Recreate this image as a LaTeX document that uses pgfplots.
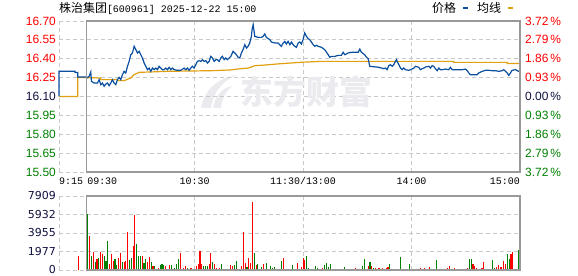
\documentclass[border=0pt]{standalone}
\usepackage{pgfplots}
\pgfplotsset{compat=1.18}
\usepackage{fontspec}
\setmainfont{Liberation Sans}
\newfontfamily\cjk{Noto Sans CJK SC}
\newfontfamily\mono{Liberation Mono}
\newfontfamily\dvs{DejaVu Sans}
\definecolor{pblue}{HTML}{0A4FA0}
\definecolor{pgold}{HTML}{E0A010}
\definecolor{gridc}{HTML}{C8C8C8}
\definecolor{framec}{HTML}{999999}
\definecolor{upred}{HTML}{FF0000}
\definecolor{dngreen}{HTML}{008000}
\definecolor{wm}{HTML}{EBEBEF}
\definecolor{navy}{HTML}{101040}
\begin{document}
\begin{tikzpicture}
\path[use as bounding box] (0bp,0bp) rectangle (578bp,276bp);
% title and legend
\node[anchor=base west, inner sep=0pt] at (59bp,263bp) {{\cjk\fontsize{12}{12}\selectfont 株治集团}{\mono\fontsize{10}{10}\selectfont[600961] 2025-12-22 15:00}};
\node[anchor=base west, inner sep=0pt] at (432bp,263bp) {\cjk\fontsize{12}{12}\selectfont 价格};
\fill[pblue] (463bp,266.5bp) rectangle (468bp,268.5bp);
\node[anchor=base west, inner sep=0pt] at (477bp,263bp) {\cjk\fontsize{12}{12}\selectfont 均线};
\fill[pgold] (508bp,266.5bp) rectangle (513bp,268.5bp);
% watermark logo swoosh
\fill[wm] (201bp,168bp) .. controls (204bp,186bp) and (218bp,198bp) .. (236bp,201bp) .. controls (222bp,194bp) and (213bp,184bp) .. (211bp,168bp) -- cycle;
\fill[wm] (213bp,168bp) .. controls (215bp,180bp) and (222bp,188bp) .. (232bp,190bp) .. controls (226bp,185bp) and (222bp,178bp) .. (221bp,168bp) -- cycle;

\begin{axis}[
  at={(59bp,104bp)}, anchor=south west,
  width=461bp, height=151bp, scale only axis,
  xmin=-15, xmax=240, ymin=15.5, ymax=16.7,
  axis line style={draw=none},
  major tick length=0pt,
  xtick={-15,60,120,180}, xticklabels={},
  ytick={15.50,15.65,15.80,15.95,16.10,16.25,16.40,16.55,16.70},
  yticklabels={\textcolor{dngreen}{15.50},\textcolor{dngreen}{15.65},\textcolor{dngreen}{15.80},\textcolor{dngreen}{15.95},\textcolor{navy}{16.10},\textcolor{upred}{16.25},\textcolor{upred}{16.40},\textcolor{upred}{16.55},\textcolor{upred}{16.70}},
  yticklabel style={anchor=east, inner sep=0pt, xshift=-3bp, font=\fontsize{12}{12}\selectfont},
  grid=major, grid style={gridc, dash pattern=on 4bp off 3bp, line width=0.9bp},
  clip=false,
]
\node[text=wm, font=\cjk\bfseries\fontsize{33}{33}\selectfont] at (axis cs:122,16.136) {东方财富};
\addplot[pgold, line width=1.2bp, no marks] coordinates {
(-15,16.10)(-4.6,16.10)(-4.6,16.25)(0,16.25)(8.1,16.247)(8.1,16.234)(17.3,16.234)(17.3,16.226)(21,16.226)(24.7,16.247)(26.5,16.273)(29.3,16.292)(35.8,16.295)(45,16.300)(69,16.305)(80,16.311)(84.1,16.319)(89.6,16.326)(91.4,16.334)(93.3,16.345)(97,16.348)(108,16.361)(119.1,16.372)(126.5,16.377)(130,16.379)(203.4,16.379)(203.4,16.371)(232.9,16.371)(232.9,16.363)(240,16.363)
};
\addplot[pblue, line width=1.2bp, no marks] coordinates {
(-15,16.10)(-15,16.30)(-6.1,16.30)(-6.1,16.29)(-4.6,16.29)(-4.6,16.255)(0,16.255)
(0.74,16.25)(1.66,16.26)(2.58,16.295)(2.95,16.22)(4.43,16.207)(6.27,16.207)(7.19,16.234)(8.11,16.194)(9.04,16.207)(9.96,16.181)(10.88,16.199)(11.8,16.207)(12.72,16.186)(13.65,16.207)(14.57,16.234)(15.49,16.207)(16.41,16.194)(17.33,16.234)(18.26,16.252)(19.18,16.234)(20.1,16.273)(21.02,16.300)(21.94,16.287)(22.87,16.340)(23.79,16.379)(24.71,16.432)(25.63,16.446)(26.55,16.499)(27.48,16.472)(28.4,16.446)(29.32,16.459)(30.24,16.432)(31.16,16.406)(32.09,16.366)(33.01,16.340)(33.93,16.313)(34.85,16.326)(35.77,16.300)(36.7,16.326)(37.62,16.313)(38.54,16.326)(39.46,16.313)(40.38,16.340)(41.31,16.326)(42.23,16.313)(43.15,16.313)(44.07,16.326)(44.99,16.313)(45.92,16.332)(46.84,16.313)(47.76,16.326)(48.68,16.313)(50.53,16.308)(52.37,16.308)(54.21,16.326)(55.14,16.313)(56.06,16.326)(56.98,16.308)(57.9,16.326)(58.82,16.340)(59.75,16.326)(60.67,16.353)(61.59,16.379)(62.51,16.385)(63.43,16.379)(64.36,16.393)(65.28,16.379)(66.2,16.385)(67.12,16.366)(68.04,16.379)(68.97,16.419)(69.89,16.406)(70.81,16.379)(71.73,16.393)(72.65,16.393)(73.58,16.379)(74.5,16.406)(75.42,16.419)(76.34,16.393)(77.27,16.406)(78.19,16.393)(79.11,16.406)(80.03,16.419)
(81.3,16.459)(82.2,16.446)(83.1,16.432)(84.1,16.411)(85.0,16.406)(85.9,16.446)(86.8,16.472)(87.8,16.512)(88.7,16.485)(89.6,16.499)(90.5,16.525)(91.4,16.578)(91.8,16.631)(92.4,16.671)(92.9,16.618)(93.3,16.578)(95.1,16.570)(97.0,16.570)(97.9,16.578)(98.8,16.597)(99.7,16.570)(100.7,16.560)(101.6,16.552)(102.5,16.533)(104.4,16.525)(106.2,16.525)(107.1,16.512)(108.0,16.499)(109.0,16.525)(109.9,16.538)(110.8,16.517)(111.7,16.538)(112.7,16.512)(113.6,16.533)(114.5,16.512)(115.4,16.499)(116.3,16.491)(117.3,16.525)(118.2,16.533)(119.1,16.517)(120.0,16.552)(120.9,16.605)(121.9,16.578)(122.8,16.560)(123.7,16.552)(124.6,16.533)(125.6,16.512)(126.5,16.499)(127.4,16.507)(128.3,16.499)(130.2,16.491)(132.0,16.472)(133.9,16.432)(134.8,16.411)(135.7,16.419)(137.6,16.419)(139.4,16.427)(141.2,16.427)(142.2,16.451)(143.1,16.432)(144.0,16.438)(144.9,16.446)(146.8,16.451)(148.6,16.451)(150.5,16.451)(151.4,16.477)(152.3,16.451)(154.1,16.432)(155.1,16.411)(156.0,16.401)(156.4,16.374)(156.9,16.340)(158.8,16.337)
(161.9,16.332)(164.7,16.321)(165.6,16.326)(166.5,16.313)(167.4,16.345)(168.3,16.353)(169.3,16.340)(170.2,16.353)(171.1,16.379)(171.7,16.393)(172.0,16.379)(173.0,16.353)(173.9,16.326)(174.8,16.313)(175.7,16.326)(176.6,16.313)(178.5,16.308)(179.4,16.313)(181.3,16.326)(182.2,16.340)(184.0,16.332)(184.9,16.313)(185.9,16.321)(186.8,16.326)(187.7,16.334)(189.5,16.340)(190.5,16.326)(191.4,16.345)(192.3,16.340)(193.2,16.321)(194.2,16.305)(195.1,16.326)(196.0,16.313)(196.9,16.313)(198.8,16.318)(200.6,16.313)(201.5,16.332)(202.5,16.313)(204.3,16.313)(206.1,16.313)(208.0,16.313)(209.8,16.318)(210.8,16.305)(211.7,16.287)(212.6,16.273)(214.4,16.273)(216.3,16.273)(217.2,16.287)(219.1,16.300)(220.9,16.308)(222.7,16.308)(224.6,16.305)(226.4,16.305)(228.3,16.300)(230.1,16.305)(231.0,16.313)(232.0,16.300)(232.9,16.287)(233.8,16.268)(234.7,16.287)(235.6,16.308)(237.5,16.313)(239.3,16.300)(240,16.30)
};
\draw[framec, line width=1.2bp] (axis cs:0,15.5) rectangle (axis cs:240,16.7);
% right percentage labels
\begin{scope}[every node/.style={anchor=west, inner sep=0pt, xshift=5bp, font=\fontsize{12}{12}\selectfont}]
\node at (axis cs:240,16.70) {\textcolor{upred}{3.72\,\%}};
\node at (axis cs:240,16.55) {\textcolor{upred}{2.79\,\%}};
\node at (axis cs:240,16.40) {\textcolor{upred}{1.86\,\%}};
\node at (axis cs:240,16.25) {\textcolor{upred}{0.93\,\%}};
\node at (axis cs:240,16.10) {\textcolor{navy}{0.00\,\%}};
\node at (axis cs:240,15.95) {\textcolor{dngreen}{0.93\,\%}};
\node at (axis cs:240,15.80) {\textcolor{dngreen}{1.86\,\%}};
\node at (axis cs:240,15.65) {\textcolor{dngreen}{2.79\,\%}};
\node at (axis cs:240,15.50) {\textcolor{dngreen}{3.72\,\%}};
\end{scope}
% time labels
\begin{scope}[every node/.style={inner sep=0pt, yshift=-13bp, font=\mono\fontsize{10}{10}\selectfont}]
\node[anchor=base west] at (axis cs:-15,15.5) {9:15};
\node[anchor=base west, xshift=1bp] at (axis cs:0,15.5) {09:30};
\node[anchor=base] at (axis cs:60,15.5) {10:30};
\node[anchor=base] at (axis cs:120,15.5) {11:30/13:00};
\node[anchor=base] at (axis cs:180,15.5) {14:00};
\node[anchor=base east] at (axis cs:240,15.5) {15:00};
\end{scope}
\end{axis}

\begin{axis}[
  at={(59bp,6bp)}, anchor=south west,
  width=461bp, height=74bp, scale only axis,
  xmin=-15, xmax=240, ymin=0, ymax=7909,
  axis line style={draw=none},
  major tick length=0pt,
  xtick={-15,60,120,180}, xticklabels={},
  ytick={0,1977,3955,5932,7909},
  yticklabels={0,1977,3955,5932,7909},
  yticklabel style={anchor=east, inner sep=0pt, xshift=-3bp, text=navy, font=\dvs\fontsize{11}{11}\selectfont},
  grid=major, grid style={gridc, dash pattern=on 4bp off 3bp, line width=0.9bp},
  clip=false,
]
\addplot[ycomb, upred, line width=1.1bp, no marks] coordinates {
(-4.3,1544)
(2,3628)(4,1976)(6,1149)(8,1904)(9,1724)(13,611)(14,1688)(15,934)(18,1293)(19,1796)(21,826)(22,934)(23,4059)(26,2550)(27,5891)(31,1545)(34,898)(35,1437)(37,467)(39,108)(40,216)(44,467)(45,144)(46,503)(48,108)(52,1796)(53,144)(54,180)(55,395)(57,108)(58,251)(60,108)(61,467)(62,647)(63,2011)(64,611)(68,611)(69,1796)(71,611)(72,180)(73,108)(74,180)(76,108)(77,108)(80,503)
(81,395)(85,108)(86,395)(87,4059)(88,718)(90,1257)(91,718)(92,7292)(94,539)(98,611)(99,108)(101,108)(105,108)(106,108)(109,1257)(111,108)(112,108)(113,108)(117,718)(119,323)(120,1329)(121,1078)(124,108)(125,108)(129,108)(131,180)(136,108)(137,108)(138,108)(139,108)(141,108)(142,108)(144,108)(145,108)(146,108)(147,108)(149,180)(150,108)(152,108)(156,395)(158,395)(160,180)
(161,108)(162,180)(164,180)(166,180)(167,287)(170,108)(171,108)(172,108)(176,108)(177,108)(180,108)(181,108)(182,108)(183,108)(184,108)(185,180)(187,180)(188,108)(189,108)(190,287)(192,108)(193,108)(196,108)(197,108)(199,108)(200,180)(201,395)(202,108)(203,108)(204,180)(206,108)(207,108)(210,108)(211,180)(214,611)(215,395)(216,251)(217,108)(218,108)(219,180)(220,826)(221,108)(222,108)(223,108)(224,108)(227,323)(228,503)(229,323)(230,323)(231,934)(232,611)(235,1688)(236,1976)(237,108)
};
\addplot[ycomb, dngreen, line width=1.1bp, no marks] coordinates {
(1,5963)(3,1473)(5,826)(7,1329)(10,1545)(11,934)(12,3089)(16,1149)(17,539)(20,826)(24,1114)(25,1257)(28,2766)(29,1545)(30,1545)(32,718)(33,1149)(36,826)(38,467)(41,503)(42,682)(43,575)(47,575)(49,216)(50,611)(51,1149)(56,251)(59,144)(65,431)(66,395)(67,467)(70,826)(75,611)(78,108)(79,108)
(82,539)(83,934)(84,108)(89,323)(93,1796)(95,611)(96,108)(97,287)(100,718)(102,395)(103,180)(104,287)(107,108)(108,934)(110,108)(114,503)(115,108)(116,108)(118,108)(122,1473)(123,180)(126,108)(127,395)(128,180)(130,108)(132,503)(133,718)(134,323)(135,611)(140,108)(143,323)(148,108)(151,108)(153,395)(154,1149)(155,108)(157,826)(159,180)
(163,108)(165,108)(168,611)(169,108)(173,108)(174,1365)(175,108)(178,108)(179,611)(186,108)(191,108)(194,1042)(195,108)(198,108)(205,108)(208,108)(209,108)(212,1149)(213,1149)(225,1042)(226,180)(233,1688)(234,1149)(239,2119)
};
\draw[framec, line width=1.2bp] (axis cs:0,0) rectangle (axis cs:240,7909);
\end{axis}
\end{tikzpicture}
\end{document}
